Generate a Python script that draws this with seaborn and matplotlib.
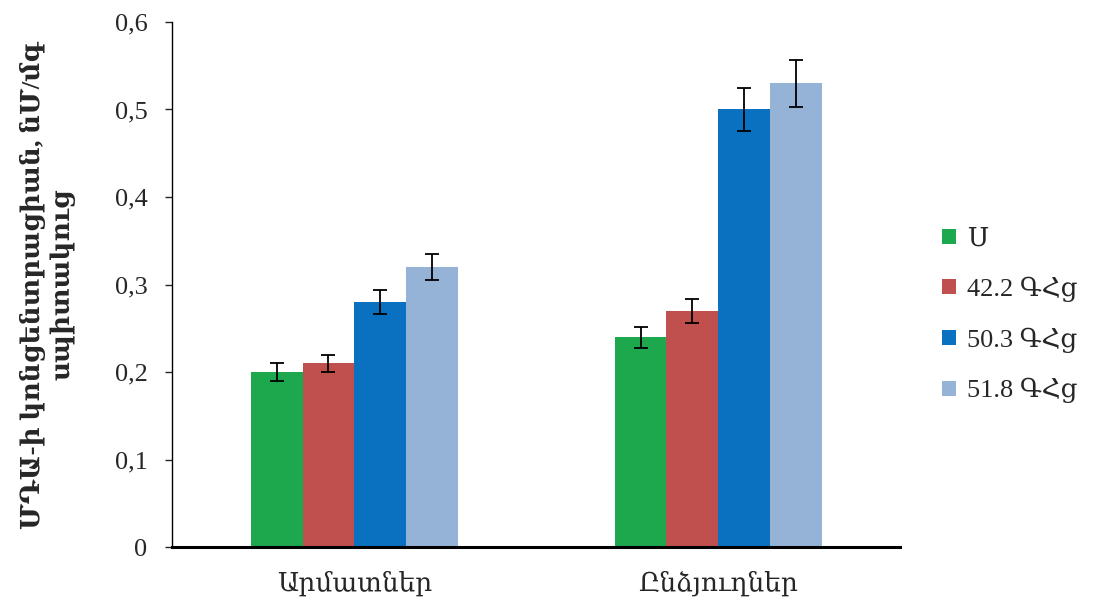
import matplotlib
matplotlib.use("Agg")
import matplotlib.pyplot as plt
from matplotlib.ticker import FuncFormatter
import seaborn as sns
import pandas as pd
import numpy as np

# Data
tissues = ["Արմատներ", "Ընձյուղներ"]
groups = ["Ս", "42.2 ԳՀց", "50.3 ԳՀց", "51.8 ԳՀց"]
mda_roots = [0.20, 0.21, 0.28, 0.32]
mda_shoots = [0.24, 0.27, 0.50, 0.53]
err_roots = [0.010, 0.010, 0.014, 0.015]
err_shoots = [0.012, 0.014, 0.025, 0.027]
colors = ["#1EA84E", "#C0504D", "#0A70C0", "#95B3D7"]

rows = []
for t, vals, errs in [(tissues[0], mda_roots, err_roots), (tissues[1], mda_shoots, err_shoots)]:
    for g, v, e in zip(groups, vals, errs):
        rows.append({"tissue": t, "group": g, "value": v, "err": e})
df = pd.DataFrame(rows)

sns.set_theme(style="white")
plt.rcParams["font.family"] = ["Liberation Serif", "DejaVu Serif"]

fig = plt.figure(figsize=(10.98, 6.10), dpi=100)
ax = fig.add_axes([0.157, 0.103, 0.663, 0.861])

sns.barplot(data=df, x="tissue", y="value", hue="group", order=tissues,
            hue_order=groups, palette=colors, width=0.57, saturation=1,
            errorbar=None, ax=ax, edgecolor="none", linewidth=0)

# Error bars at bar centres
for cont, g in zip(ax.containers, groups):
    sub = df[df["group"] == g].set_index("tissue").loc[tissues]
    xs = [p.get_x() + p.get_width() / 2 for p in cont.patches]
    ax.errorbar(xs, sub["value"].values, yerr=sub["err"].values, fmt="none",
                ecolor="black", elinewidth=1.3, capsize=5, capthick=1.3)

ax.set_xlim(-0.5, 1.5)
ax.set_ylim(0, 0.6)
ax.set_yticks(np.arange(0, 0.61, 0.1))
ax.yaxis.set_major_formatter(FuncFormatter(lambda v, p: "0" if abs(v) < 1e-9 else f"{v:.1f}".replace(".", ",")))
ax.tick_params(axis="y", labelsize=19, length=5, width=1, direction="out", left=True, pad=13)
ax.tick_params(axis="x", labelsize=19, length=0, pad=17)

for s in ["top", "right"]:
    ax.spines[s].set_visible(False)
ax.spines["left"].set_color("black")
ax.spines["left"].set_linewidth(1)
ax.spines["bottom"].set_color("black")
ax.spines["bottom"].set_linewidth(2.2)

ax.set_xlabel("")
ax.set_ylabel("ՄԴԱ-ի կոնցենտրացիան, նՄ/մգ\nսպիտակուց", fontsize=19,
              fontweight="bold", labelpad=28, linespacing=1.2)

ax.legend(title=None, loc="center left", bbox_to_anchor=(1.025, 0.44),
          frameon=False, fontsize=19, handlelength=0.5, handleheight=0.5,
          handletextpad=0.45, labelspacing=0.97)

fig.savefig("out.png", dpi=100, facecolor="white")
